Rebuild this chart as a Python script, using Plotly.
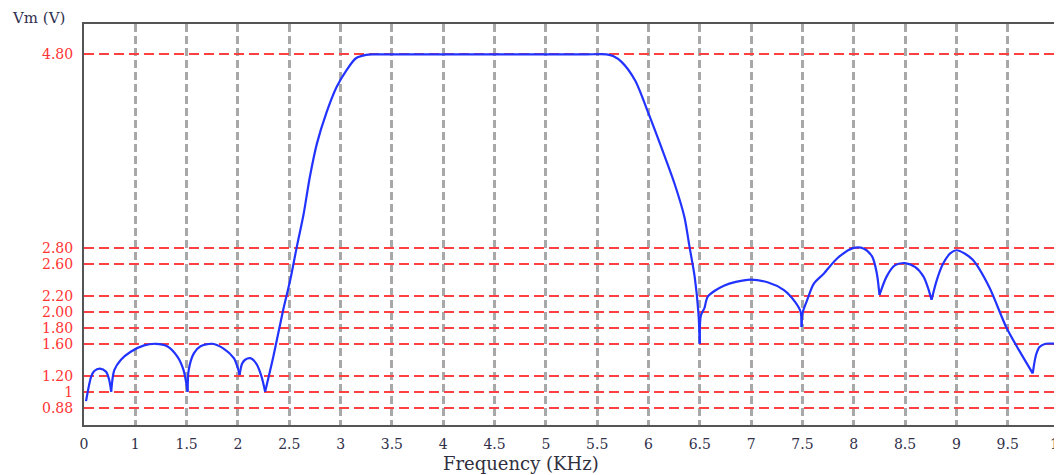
import numpy as np
import plotly.graph_objects as go

# x tick labels (kHz) and where they sit on the axis
x_tick_vals = [0, 1, 1.5, 2, 2.5, 3, 3.5, 4, 4.5, 5, 5.5, 6, 6.5, 7, 7.5, 8, 8.5, 9, 9.5, 10]
x_tick_pos = [0.5, 1, 1.5, 2, 2.5, 3, 3.5, 4, 4.5, 5, 5.5, 6, 6.5, 7, 7.5, 8, 8.5, 9, 9.5, 10]
x_tick_text = ["0", "1", "1.5", "2", "2.5", "3", "3.5", "4", "4.5", "5", "5.5", "6",
               "6.5", "7", "7.5", "8", "8.5", "9", "9.5", "10"]

# y tick labels (V) and where they sit on the axis
y_tick_vals = [0.88, 1, 1.2, 1.6, 1.8, 2.0, 2.2, 2.6, 2.8, 4.8]
y_tick_pos = [0.8, 1, 1.2, 1.6, 1.8, 2.0, 2.2, 2.6, 2.8, 5.22]
y_tick_text = ["0.88", "1", "1.20", "1.60", "1.80", "2.00", "2.20", "2.60", "2.80", "4.80"]

# curve
freq_khz = [0.04, 0.14, 0.20, 0.31, 0.43, 0.49, 0.53,
            0.59, 0.72, 0.91, 1.085, 1.20, 1.31, 1.41, 1.47, 1.51,
            1.52, 1.57, 1.635, 1.75, 1.86, 1.96, 2.005, 2.016,
            2.04, 2.07, 2.12, 2.18, 2.23, 2.265,
            2.345, 2.44, 2.51, 2.57, 2.64, 2.70, 2.77, 2.86, 2.96, 3.06, 3.15, 3.25, 3.32,
            3.40, 3.6, 4.0, 4.5, 5.0, 5.4,
            5.59, 5.66, 5.74, 5.87, 6.00, 6.125, 6.255, 6.35, 6.40, 6.45, 6.487, 6.50,
            6.51, 6.546, 6.578, 6.74, 6.965, 7.16, 7.32, 7.43, 7.482, 7.492,
            7.50, 7.547, 7.61, 7.71, 7.84, 8.00, 8.10, 8.18, 8.225, 8.251,
            8.32, 8.40, 8.50, 8.60, 8.68, 8.726, 8.758,
            8.81, 8.87, 8.94, 9.00, 9.08, 9.16, 9.32, 9.485, 9.61, 9.744,
            9.776, 9.81, 9.87, 9.97]
vm_volts = [0.93, 1.19, 1.26, 1.29, 1.25, 1.15, 1.00,
            1.27, 1.40, 1.50, 1.58, 1.60, 1.57, 1.44, 1.27, 1.00,
            1.27, 1.48, 1.57, 1.60, 1.54, 1.42, 1.27, 1.21,
            1.35, 1.40, 1.42, 1.35, 1.19, 1.00,
            1.44, 2.02, 2.40, 2.79, 3.15, 3.53, 3.88, 4.19, 4.46, 4.64, 4.76, 4.795, 4.80,
            4.80, 4.80, 4.80, 4.80, 4.80, 4.80,
            4.80, 4.78, 4.72, 4.53, 4.19, 3.84, 3.46, 3.12, 2.81, 2.44, 1.98, 1.60,
            1.95, 2.05, 2.19, 2.33, 2.40, 2.37, 2.27, 2.12, 2.00, 1.81,
            1.98, 2.15, 2.35, 2.48, 2.67, 2.80, 2.79, 2.69, 2.48, 2.21,
            2.44, 2.58, 2.61, 2.56, 2.44, 2.29, 2.15,
            2.40, 2.60, 2.73, 2.77, 2.73, 2.65, 2.31, 1.81, 1.52, 1.23,
            1.46, 1.56, 1.60, 1.60]

# map values onto the (uneven) axes
xs = np.interp(freq_khz, x_tick_vals, x_tick_pos)
ys = np.interp(vm_volts, y_tick_vals, y_tick_pos)

# split at the sharp dips so each lobe is smoothed but the cusps stay sharp
v = np.array(vm_volts)
cusps = [i for i in range(1, len(v) - 1) if v[i] < v[i - 1] and v[i] < v[i + 1]]
bounds = [0] + cusps + [len(v) - 1]

fig = go.Figure()
for a, b in zip(bounds[:-1], bounds[1:]):
    fig.add_trace(go.Scatter(x=xs[a:b + 1], y=ys[a:b + 1], mode="lines",
                             line=dict(color="#2233ff", width=2.2, shape="spline", smoothing=0.8),
                             hoverinfo="skip"))

fig.update_xaxes(range=[0.5, 10], tickvals=x_tick_pos, ticktext=x_tick_text,
                 showgrid=True, gridcolor="#a8a8a8", gridwidth=2.5, griddash="8px,4px",
                 showline=True, linecolor="#555555", linewidth=2, mirror=True,
                 zeroline=False, ticks="", ticklabelstandoff=5,
                 ticklabeloverflow="allow", automargin=False,
                 tickfont=dict(family="DejaVu Serif", size=14, color="#30304a"))
fig.update_yaxes(range=[0.584, 5.6], tickvals=y_tick_pos, ticktext=y_tick_text,
                 showgrid=True, gridcolor="#ff4040", gridwidth=1.8, griddash="10px,5px",
                 showline=True, linecolor="#555555", linewidth=2, mirror=True,
                 zeroline=False, ticks="", ticklabelstandoff=6,
                 tickfont=dict(family="DejaVu Serif", size=14, color="#ff3333"))

fig.add_annotation(text="Vm (V)", xref="paper", yref="paper", x=-0.0757, y=1.016,
                   xanchor="left", yanchor="middle", showarrow=False,
                   font=dict(family="DejaVu Serif", size=15, color="#303050"))
fig.add_annotation(text="Frequency (KHz)", xref="paper", yref="paper", x=0.448, y=-0.095,
                   xanchor="center", yanchor="middle", showarrow=False,
                   font=dict(family="DejaVu Serif", size=18, color="#303040"))

# page adds an 8px body margin, so the figure is drawn 8px smaller and shifted
fig.update_layout(width=1054, height=467, showlegend=False,
                  margin=dict(l=76, r=1, t=16, b=50),
                  paper_bgcolor="white", plot_bgcolor="white")

fig.write_html("out.html")
